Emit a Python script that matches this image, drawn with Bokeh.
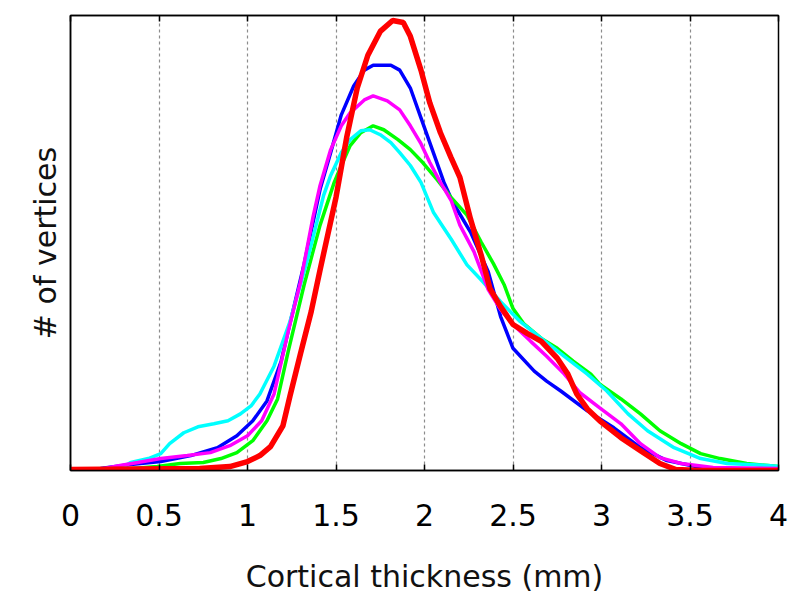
from bokeh.plotting import figure
from bokeh.models import Range1d, FixedTicker, LinearAxis, CustomLabelingPolicy
from bokeh.embed import file_html
from bokeh.resources import INLINE

# x: cortical thickness (mm); y: number of vertices (arbitrary units)
tick_values = [0, 0.5, 1, 1.5, 2, 2.5, 3, 3.5, 4]
tick_labels = ["0", "0.5", "1", "1.5", "2", "2.5", "3", "3.5", "4"]

blue_x = [0.00, 0.17, 0.34, 0.51, 0.68, 0.83, 0.94, 1.03, 1.11, 1.19, 1.24, 1.32, 1.41, 1.47, 1.53,
          1.60, 1.66, 1.71, 1.81, 1.86, 1.92, 1.98, 2.05, 2.11, 2.16, 2.26, 2.36, 2.43, 2.50, 2.62,
          2.69, 2.77, 2.92, 3.07, 3.22, 3.37, 3.56, 3.79, 4.00]
blue_y = [0, 2, 6, 9, 15, 23, 35, 50, 70, 110, 148, 208, 283, 320, 358,
          387, 403, 408, 408, 403, 385, 355, 320, 290, 270, 240, 200, 155, 123, 100,
          90, 80, 60, 43, 23, 10, 3, 1, 1]

green_x = [0.00, 0.28, 0.49, 0.62, 0.75, 0.85, 0.94, 1.03, 1.11, 1.17, 1.23, 1.32, 1.41, 1.49, 1.53,
           1.58, 1.64, 1.71, 1.77, 1.85, 1.92, 1.99, 2.07, 2.15, 2.24, 2.32, 2.39, 2.45, 2.50, 2.56,
           2.66, 2.75, 2.84, 2.94, 2.99, 3.11, 3.22, 3.33, 3.45, 3.56, 3.67, 3.82, 3.94, 4.00]
green_y = [0, 1, 4, 7, 8, 12, 18, 30, 50, 72, 120, 187, 247, 290, 307,
           327, 340, 347, 343, 333, 323, 310, 293, 275, 257, 230, 208, 187, 163, 148,
           133, 123, 110, 97, 87, 72, 57, 40, 27, 17, 12, 7, 5, 4]

cyan_x = [0.00, 0.27, 0.34, 0.44, 0.51, 0.56, 0.64, 0.72, 0.81, 0.89, 0.96, 1.02, 1.07, 1.15, 1.24,
          1.34, 1.43, 1.47, 1.53, 1.58, 1.64, 1.69, 1.75, 1.81, 1.86, 1.92, 1.98, 2.05, 2.15, 2.24,
          2.33, 2.43, 2.54, 2.66, 2.81, 2.92, 3.03, 3.15, 3.26, 3.41, 3.56, 3.71, 3.94, 4.00]
cyan_y = [0, 1, 8, 12, 17, 27, 38, 44, 47, 50, 57, 65, 77, 105, 150,
          213, 277, 297, 320, 333, 342, 343, 338, 330, 320, 307, 290, 260, 233, 207,
          190, 170, 150, 133, 112, 97, 80, 57, 40, 23, 12, 7, 5, 4]

magenta_x = [0.00, 0.19, 0.28, 0.38, 0.51, 0.66, 0.79, 0.90, 1.00, 1.08, 1.15, 1.23, 1.30, 1.37, 1.41,
             1.47, 1.53, 1.58, 1.66, 1.71, 1.79, 1.86, 1.92, 1.98, 2.03, 2.09, 2.15, 2.20, 2.28, 2.36,
             2.43, 2.50, 2.60, 2.69, 2.79, 2.88, 2.99, 3.11, 3.22, 3.33, 3.45, 3.63, 4.00]
magenta_y = [1, 2, 5, 8, 12, 15, 18, 25, 35, 50, 77, 140, 190, 255, 287,
             323, 347, 360, 373, 377, 372, 363, 347, 329, 310, 290, 272, 247, 220, 182,
             162, 147, 130, 115, 97, 78, 63, 47, 27, 13, 7, 3, 2]

red_x = [0.00, 0.73, 0.90, 1.00, 1.07, 1.13, 1.20, 1.24, 1.30, 1.36, 1.41, 1.50, 1.56, 1.62, 1.68,
         1.75, 1.82, 1.88, 1.92, 1.98, 2.03, 2.09, 2.15, 2.20, 2.26, 2.32, 2.37, 2.43, 2.50, 2.58,
         2.66, 2.75, 2.81, 2.86, 2.92, 2.99, 3.11, 3.22, 3.33, 3.42, 3.56, 4.00]
red_y = [1, 2, 4, 9, 15, 24, 45, 75, 118, 160, 202, 275, 335, 385, 418,
         442, 453, 451, 437, 403, 370, 340, 315, 295, 253, 217, 183, 165, 147, 138,
         130, 113, 97, 77, 62, 50, 33, 20, 7, 1, 0, 0]

FONT = "DejaVu Sans"

p = figure(width=793, height=600, output_backend="svg", toolbar_location=None,
           x_range=Range1d(0, 4), y_range=Range1d(0, 458),
           min_border_left=70, min_border_right=15, min_border_top=15, min_border_bottom=130)

p.outline_line_color = "black"
p.outline_line_width = 1.5
p.background_fill_color = "white"
p.border_fill_color = "white"

ticker = FixedTicker(ticks=tick_values)
xa = p.xaxis[0]
xa.ticker = ticker
xa.major_label_overrides = {v: s for v, s in zip(tick_values, tick_labels)}
xa.major_tick_in = 6
xa.major_tick_out = 0
xa.minor_tick_line_color = None
xa.axis_line_color = "black"
xa.axis_line_width = 1.5
xa.major_tick_line_color = "black"
xa.major_tick_line_width = 1.5
xa.major_label_text_font = FONT
xa.major_label_text_font_size = "30px"
xa.major_label_text_color = "black"
xa.major_label_standoff = 33
xa.axis_label = "Cortical thickness (mm)"
xa.axis_label_text_font = FONT
xa.axis_label_text_font_size = "30px"
xa.axis_label_text_font_style = "normal"
xa.axis_label_text_color = "#111111"
xa.axis_label_standoff = 30

no_labels = CustomLabelingPolicy(code="for (const i of indices) { indices.unset(i) }; return indices")
top = LinearAxis(ticker=ticker, major_tick_in=6, major_tick_out=0,
                 minor_tick_line_color=None, major_label_text_font_size="10px",
                 major_label_policy=no_labels,
                 major_label_standoff=0, axis_line_color="black", axis_line_width=1.5,
                 major_tick_line_width=1.5)
p.add_layout(top, "above")

ya = p.yaxis[0]
ya.ticker = FixedTicker(ticks=[])
ya.minor_tick_line_color = None
ya.axis_line_color = "black"
ya.axis_line_width = 1.5
ya.axis_label = "# of vertices"
ya.axis_label_text_font = FONT
ya.axis_label_text_font_size = "30px"
ya.axis_label_text_font_style = "normal"
ya.axis_label_text_color = "#111111"
ya.axis_label_standoff = 8

p.ygrid.visible = False
p.xgrid.grid_line_color = "#8c8c8c"
p.xgrid.grid_line_dash = "3 3"
p.xgrid.grid_line_width = 1.2

p.line(blue_x, blue_y, line_color="#0000ff", line_width=3.5)
p.line(green_x, green_y, line_color="#00ff00", line_width=3.5)
p.line(cyan_x, cyan_y, line_color="#00ffff", line_width=3.5)
p.line(magenta_x, magenta_y, line_color="#ff00ff", line_width=3.5)
p.line(red_x, red_y, line_color="#ff0000", line_width=5.5)

open("out.html", "w").write(file_html(p, INLINE))
